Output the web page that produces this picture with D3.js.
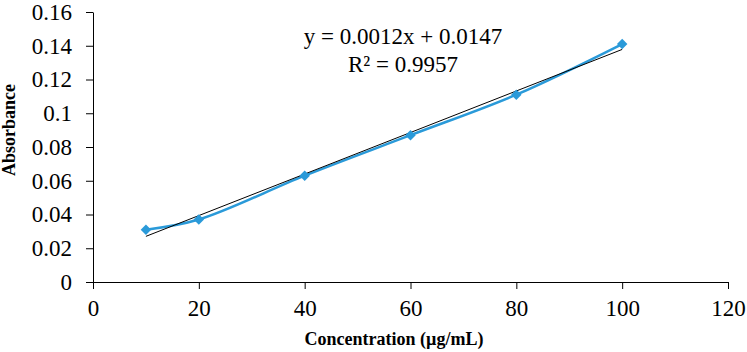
<!DOCTYPE html>
<html>
<head>
<meta charset="utf-8">
<script src="https://cdn.jsdelivr.net/npm/d3@7"></script>
<style>
  body { margin: 0; background: #fff; }
  svg text { font-family: "Liberation Serif", "Times New Roman", serif; fill: #000; }
  .axis path, .axis line { stroke: #000; }
</style>
</head>
<body>
<div id="chart"></div>
<script>
const conc = [10, 20, 40, 60, 80, 100];
const absorbance = [0.031, 0.037, 0.063, 0.087, 0.111, 0.141];
const xTicks = [0, 20, 40, 60, 80, 100, 120];
const yTicks = [0, 0.02, 0.04, 0.06, 0.08, 0.1, 0.12, 0.14, 0.16];
const equation = 'y = 0.0012x + 0.0147';
const rSquared = 'R² = 0.9957';

const draw = () => {
  const width = 747, height = 352;
  const svg = d3.select('#chart')
    .append('svg')
    .attr('width', width)
    .attr('height', height);

  const x = d3.scaleLinear().domain([0, 120]).range([93, 728]);
  const y = d3.scaleLinear().domain([0, 0.16]).range([282, 12]);

  // axes
  svg.append('g')
    .attr('class', 'axis')
    .attr('transform', 'translate(0,282)')
    .call(d3.axisBottom(x).tickValues(xTicks).tickSize(7).tickSizeOuter(0).tickFormat(d3.format('d')))
    .call(g => g.selectAll('text').attr('font-size', 23).attr('y', 12).attr('dy', '0.95em').attr('font-family', null));
  svg.append('g')
    .attr('class', 'axis')
    .attr('transform', 'translate(93,0)')
    .call(d3.axisLeft(y).tickValues(yTicks).tickSize(7).tickSizeOuter(0).tickFormat(d => d === 0 ? '0' : String(+d.toFixed(2))))
    .call(g => g.selectAll('text').attr('font-size', 23).attr('x', -21).attr('font-family', null));

  // data line
  const pts = conc.map((c, i) => [c, absorbance[i]]);
  const line = d3.line()
    .x(d => x(d[0]))
    .y(d => y(d[1]))
    .curve(d3.curveCatmullRom.alpha(0.5));
  svg.append('path')
    .datum(pts)
    .attr('d', line)
    .attr('fill', 'none')
    .attr('stroke', '#2a9ad9')
    .attr('stroke-width', 2.5);

  // linear trendline (least squares)
  const mx = d3.mean(conc), my = d3.mean(absorbance);
  const sxy = d3.sum(pts, d => (d[0] - mx) * (d[1] - my));
  const sxx = d3.sum(conc, c => (c - mx) * (c - mx));
  const slope = sxy / sxx, icpt = my - slope * mx;
  const ext = d3.extent(conc);
  svg.append('line')
    .attr('x1', x(ext[0])).attr('y1', y(slope * ext[0] + icpt))
    .attr('x2', x(ext[1])).attr('y2', y(slope * ext[1] + icpt))
    .attr('stroke', '#000')
    .attr('stroke-width', 1);

  // markers
  svg.selectAll('.pt')
    .data(pts)
    .join('path')
    .attr('class', 'pt')
    .attr('transform', d => `translate(${x(d[0])},${y(d[1])})`)
    .attr('d', d3.symbol(d3.symbolDiamond2, 70))
    .attr('fill', '#2a9ad9');

  // equation
  svg.append('text')
    .attr('x', 403).attr('y', 44)
    .attr('text-anchor', 'middle')
    .attr('font-size', 23)
    .text(equation);
  svg.append('text')
    .attr('x', 403).attr('y', 72)
    .attr('text-anchor', 'middle')
    .attr('font-size', 23)
    .text(rSquared);

  // titles
  svg.append('text')
    .attr('x', 394).attr('y', 345)
    .attr('text-anchor', 'middle')
    .attr('font-size', 18)
    .attr('font-weight', 'bold')
    .text('Concentration (µg/mL)');
  svg.append('text')
    .attr('transform', 'translate(15,130) rotate(-90)')
    .attr('text-anchor', 'middle')
    .attr('font-size', 18)
    .attr('font-weight', 'bold')
    .text('Absorbance');
}

draw();
</script>
</body>
</html>
